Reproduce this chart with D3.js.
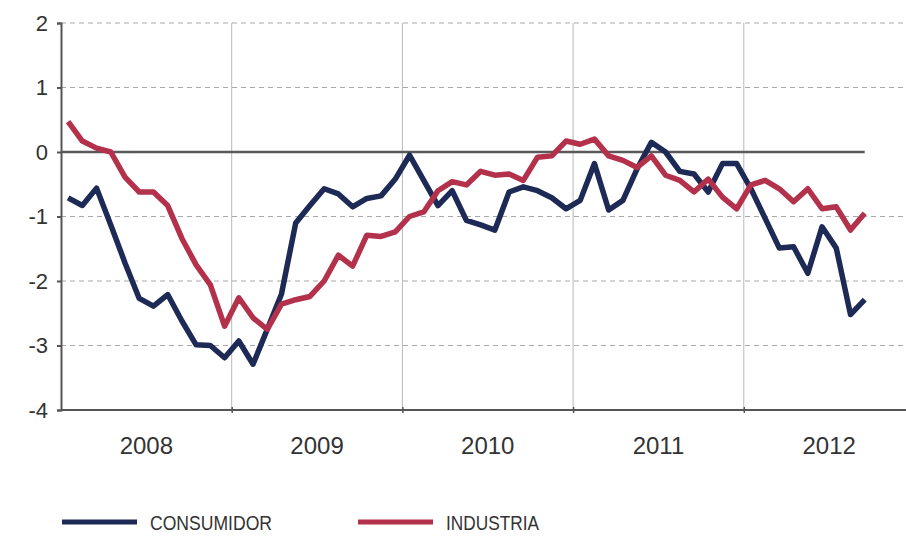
<!DOCTYPE html>
<html>
<head>
<meta charset="utf-8">
<script src="https://cdn.jsdelivr.net/npm/d3@7"></script>
<style>
  html, body { margin: 0; padding: 0; background: #fff; }
  svg { display: block; }
</style>
</head>
<body>
<svg id="chart" width="906" height="536"></svg>
<script>
const years = ["2008", "2009", "2010", "2011", "2012"];
const yTicks = [2, 1, 0, -1, -2, -3, -4];
const seriesNames = ["CONSUMIDOR", "INDUSTRIA"];
// monthly values, Jan 2008 .. Sep 2012
const consumidor = [
  -0.71, -0.83, -0.56, -1.13, -1.72, -2.27, -2.39, -2.21, -2.62, -2.99, -3.00, -3.19,
  -2.93, -3.29, -2.75, -2.20, -1.10, -0.83, -0.57, -0.65, -0.85, -0.72, -0.68, -0.42,
  -0.05, -0.44, -0.83, -0.60, -1.06, -1.13, -1.21, -0.62, -0.54, -0.60, -0.71, -0.88,
  -0.75, -0.18, -0.90, -0.75, -0.26, 0.15, 0.00, -0.30, -0.34, -0.62, -0.18, -0.18,
  -0.57, -1.03, -1.49, -1.47, -1.88, -1.16, -1.49, -2.52, -2.29
];
const industria = [
  0.47, 0.17, 0.06, 0.00, -0.39, -0.62, -0.62, -0.83, -1.34, -1.75, -2.06, -2.70,
  -2.26, -2.57, -2.75, -2.36, -2.29, -2.24, -2.00, -1.60, -1.77, -1.29, -1.31, -1.24,
  -1.00, -0.93, -0.60, -0.46, -0.51, -0.30, -0.36, -0.34, -0.44, -0.08, -0.06, 0.17,
  0.12, 0.20, -0.06, -0.13, -0.24, -0.06, -0.36, -0.44, -0.62, -0.42, -0.70, -0.88,
  -0.51, -0.44, -0.57, -0.77, -0.57, -0.88, -0.85, -1.21, -0.95
];

const svg = d3.select("#chart");
const W = 906;
const mLeft = 61, mTop = 23, mBottom = 410;
const yearW = 170.7;
const x = d3.scaleLinear().domain([0, years.length * 12]).range([mLeft, mLeft + yearW * years.length]);
const y = d3.scaleLinear().domain([d3.min(yTicks), d3.max(yTicks)]).range([mBottom, mTop]);
const plotRight = x(consumidor.length - 0.5);

const blue = "#1d2a55", red = "#b3314b";
const font = "Liberation Sans, Arial, sans-serif";

// horizontal dashed grid
svg.append("g").selectAll("line").data(yTicks.filter(d => d !== 0 && d !== d3.min(yTicks)))
  .join("line")
  .attr("x1", mLeft).attr("x2", W)
  .attr("y1", d => y(d)).attr("y2", d => y(d))
  .attr("stroke", "#a9a9a9").attr("stroke-width", 1).attr("stroke-dasharray", "5,4");

// vertical year grid
const yearBounds = d3.range(1, years.length).map(i => i * 12);
svg.append("g").selectAll("line").data(yearBounds)
  .join("line")
  .attr("x1", d => x(d)).attr("x2", d => x(d))
  .attr("y1", mTop).attr("y2", mBottom)
  .attr("stroke", "#b8b8b8").attr("stroke-width", 1);

// zero line
svg.append("line")
  .attr("x1", mLeft).attr("x2", plotRight)
  .attr("y1", y(0)).attr("y2", y(0))
  .attr("stroke", "#5a5a5a").attr("stroke-width", 2.5);

// y axis
const yAxis = d3.axisLeft(y).tickValues(yTicks).tickSize(4).tickPadding(9).tickFormat(d3.format("d"));
const gy = svg.append("g").attr("transform", `translate(${mLeft},0)`).call(yAxis);
gy.attr("font-size", null).attr("font-family", null);
gy.select(".domain").attr("stroke", "#555").attr("stroke-width", 2);
gy.selectAll(".tick line").attr("stroke", "#555").attr("stroke-width", 2);
gy.selectAll("text").style("font-family", font)
  .style("font-size", "22px").attr("fill", "#333").text(d => d < 0 ? "-" + Math.abs(d) : d);

// x axis
svg.append("line").attr("x1", mLeft).attr("x2", W).attr("y1", mBottom).attr("y2", mBottom)
  .attr("stroke", "#555").attr("stroke-width", 2);
const xAxis = d3.axisBottom(x).tickValues(yearBounds).tickSize(4).tickFormat("");
const gx = svg.append("g").attr("transform", `translate(0,${mBottom})`).call(xAxis);
gx.select(".domain").remove();
gx.selectAll(".tick line").attr("stroke", "#555").attr("stroke-width", 1.5).attr("y1", -3).attr("y2", 3);
svg.append("g").selectAll("text").data(years).join("text")
  .attr("x", (d, i) => x(i * 12 + 6))
  .attr("y", 454)
  .attr("text-anchor", "middle")
  .style("font-family", font)
  .style("font-size", "24px").attr("fill", "#333")
  .text(d => d);

// lines
const line = d3.line().x((d, i) => x(i + 0.5)).y(d => y(d));
svg.append("path").datum(consumidor).attr("d", line)
  .attr("fill", "none").attr("stroke", blue).attr("stroke-width", 5.5)
  .attr("stroke-linejoin", "round");
svg.append("path").datum(industria).attr("d", line)
  .attr("fill", "none").attr("stroke", red).attr("stroke-width", 5.5)
  .attr("stroke-linejoin", "round");

// legend
const legend = [
  { name: seriesNames[0], color: blue, x0: 62, w: 122 },
  { name: seriesNames[1], color: red, x0: 358, w: 93 }
];
const lg = svg.append("g").selectAll("g").data(legend).join("g")
  .attr("transform", d => `translate(${d.x0},522)`);
lg.append("line").attr("x1", 0).attr("x2", 75).attr("y1", 0).attr("y2", 0)
  .attr("stroke", d => d.color).attr("stroke-width", 5);
lg.append("text").attr("x", 88).attr("y", 8)
  .style("font-family", font)
  .style("font-size", "21px").attr("fill", "#333")
  .attr("textLength", d => d.w).attr("lengthAdjust", "spacingAndGlyphs")
  .text(d => d.name);
</script>
</body>
</html>
